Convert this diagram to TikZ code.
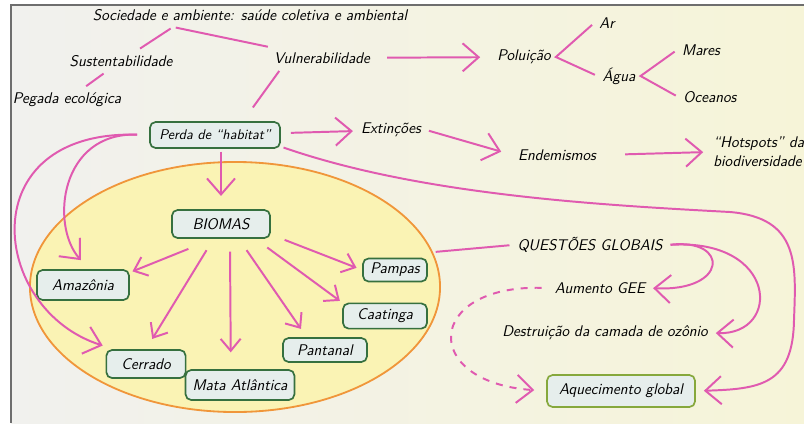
\documentclass[tikz,border=0pt]{standalone}
\usepackage {tikz}
\usetikzlibrary{calc}
\usetikzlibrary{positioning}
\usetikzlibrary{shapes.geometric}
\usetikzlibrary{arrows.meta}

\definecolor{paper}{HTML}{F1F1EE}
\definecolor{paperyellow}{HTML}{F6F4D8}
\definecolor{frameline}{HTML}{6E6E6E}
\definecolor{pen}{HTML}{E05AB0}
\definecolor{ringorange}{HTML}{F0963A}
\definecolor{ringfill}{HTML}{FAF3B4}
\definecolor{boxline}{HTML}{36703F}
\definecolor{boxfill}{HTML}{E6EEEC}
\definecolor{aqline}{HTML}{86A83C}

\begin{document}
\begin{tikzpicture} [thick, x=0.025cm, y=-0.025cm,
    every node/.style = {font=\sffamily\itshape\fontsize{11}{13.5}\selectfont},
    box/.style = {draw=boxline, fill=boxfill, line width=1.2pt, rounded corners=4pt},
    branch/.style = {draw=pen, line width=1.4pt, shorten <=2pt, shorten >=2pt},
    link/.style = {branch, -{Straight Barb[length=4mm, width=7mm]}},
    spoke/.style = {branch, -{Straight Barb[length=3mm, width=5mm]}}]

% paper
\useasboundingbox (0,0) rectangle (804,423);
\fill [white] (0,0) rectangle (804,423);
\shade [left color = paper, right color = paperyellow] (11,5) rectangle (804,423);
\draw [frameline, line width = 1.2pt] (11,423) -- (11,5) -- (804,5);

% biomes ring
\node (ring) [ellipse, draw = ringorange, fill = ringfill, line width = 1.3pt,
    minimum width = 10.25cm, minimum height = 6.25cm, inner sep = 0] at (235,287) {};

\coordinate (fork) at (173,27);

% top of the map
\node (soc) at (250,15) {Sociedade e ambiente: saúde coletiva e ambiental};
\node (sust) at (121,61) {Sustentabilidade};
\node (pegada) at (67,100) {Pegada ecológica};
\node (vuln) at (322,58) {Vulnerabilidade};

%pollution
\node (polu) at (524,57) {Poluição};
\node (ar) at (607,23) {Ar};
\node (agua) at (619,76) {Água};
\node (mares) at (701,50) {Mares};
\node (oceanos) at (710,97) {Oceanos};

%habitat loss
\node (perda) [box, font = \sffamily\itshape\fontsize{10}{12}\selectfont,
    minimum width = 3.25cm, minimum height = 0.65cm] at (215,135) {Perda de ``habitat''};
\node (extin) at (391,130) {Extinções};
\node (endem) at (557,155) {Endemismos};
\node (hotspots) [anchor = west, align = left] at (708,152) {``Hotspots'' da\\biodiversidade};

% biomes
\node (biomas) [box, minimum width = 2.45cm, minimum height = 0.7cm] at (221,224) {BIOMAS};
\node (amazonia) [box, minimum width = 2.3cm, minimum height = 0.75cm] at (83,285) {Amazônia};
\node (cerrado) [box, minimum width = 1.98cm, minimum height = 0.7cm] at (146,364) {Cerrado};
\node (mata) [box, minimum width = 2.72cm, minimum height = 0.75cm] at (240,385) {Mata Atlântica};
\node (pantanal) [box, minimum width = 2.1cm, minimum height = 0.6cm] at (325,350) {Pantanal};
\node (caatinga) [box, minimum width = 2.1cm, minimum height = 0.63cm] at (385,316) {Caatinga};
\node (pampas) [box, minimum width = 1.6cm, minimum height = 0.5cm] at (395,270) {Pampas};

% global issues
\node (questoes) at (590,245) {QUESTÕES GLOBAIS};
\node (gee) at (600,288) {Aumento GEE};
\node (ozonio) at (605,333) {Destruição da camada de ozônio};
\node (aquec) [box, draw = aqline, minimum width = 3.7cm, minimum height = 0.8cm] at (621,391) {Aquecimento global};

% plain links
\draw [branch] (fork) -- (sust);
\draw [branch] (fork) -- (vuln);
\draw [branch] (sust) -- (pegada);
\draw [branch, shorten >= 12pt] ([xshift = 0.3cm]vuln.south west) -- ([xshift = 0.7cm]perda.north);
\draw [branch] (ar.west) -- (polu.east) -- (agua.west);
\draw [branch] (mares.west) -- (agua.east) -- (oceanos.west);
\draw [branch] (ring.10) -- (questoes.west);

% arrows
\draw [link, shorten <= 0.3cm, shorten >= 0.3cm] (vuln) -- (polu);
\draw [link, shorten <= 0.25cm] (perda) -- (extin);
\draw [link, shorten >= 0.3cm] (extin.east) -- (endem.west);
\draw [link, shorten <= 0.6cm, shorten >= 0.12cm] (endem.east) -- (hotspots.west);
\draw [link, shorten >= 0.33cm] (perda.south -| biomas.north) -- (biomas.north);

\draw [link, shorten <= 0.3cm, shorten >= 0.3cm] (perda.west) .. controls (60,132) and (50,225) .. (amazonia.70);
\draw [link, shorten <= 0.3cm, shorten >= 0.3cm] (perda.west) .. controls (-30,130) and (-10,310) .. (cerrado.155);
\draw [link, shorten >= 0.2cm] (perda.-10) .. controls (420,195) and (600,205) .. (730,212)
    .. controls (800,218) and (796,265) .. (794,320)
    .. controls (793,385) and (760,389) .. (aquec.east);

%spokes
\draw [spoke] ($(biomas.south) + (-30,9)$) -- (amazonia.15);
\draw [spoke, shorten >= 0.3cm] ($(biomas.south) + (-13,9)$) -- (cerrado.north);
\draw [spoke, shorten >= 0.42cm] ($(biomas.south) + (9,10)$) -- (mata.120);
\draw [spoke, shorten >= 0.25cm] ($(biomas.south) + (24,9)$) -- (pantanal.145);
\draw [spoke] ($(biomas.south) + (44,7)$) -- (caatinga.north west);
\draw [spoke, shorten >= 0.15cm] ($(biomas.south) + (61,0)$) -- (pampas.west);

% global issues
\draw [link] (questoes.east) .. controls (730,238) and (728,292) .. (gee.east);
\draw [link] (questoes.east) .. controls (778,238) and (782,335) .. (ozonio.east);
\draw [link, dashed, dash pattern = on 5pt off 5pt, shorten <= 0.2cm, shorten >= 0.3cm]
    (gee.west) .. controls (425,285) and (420,382) .. (aquec.west);

\end{tikzpicture}
\end{document}
